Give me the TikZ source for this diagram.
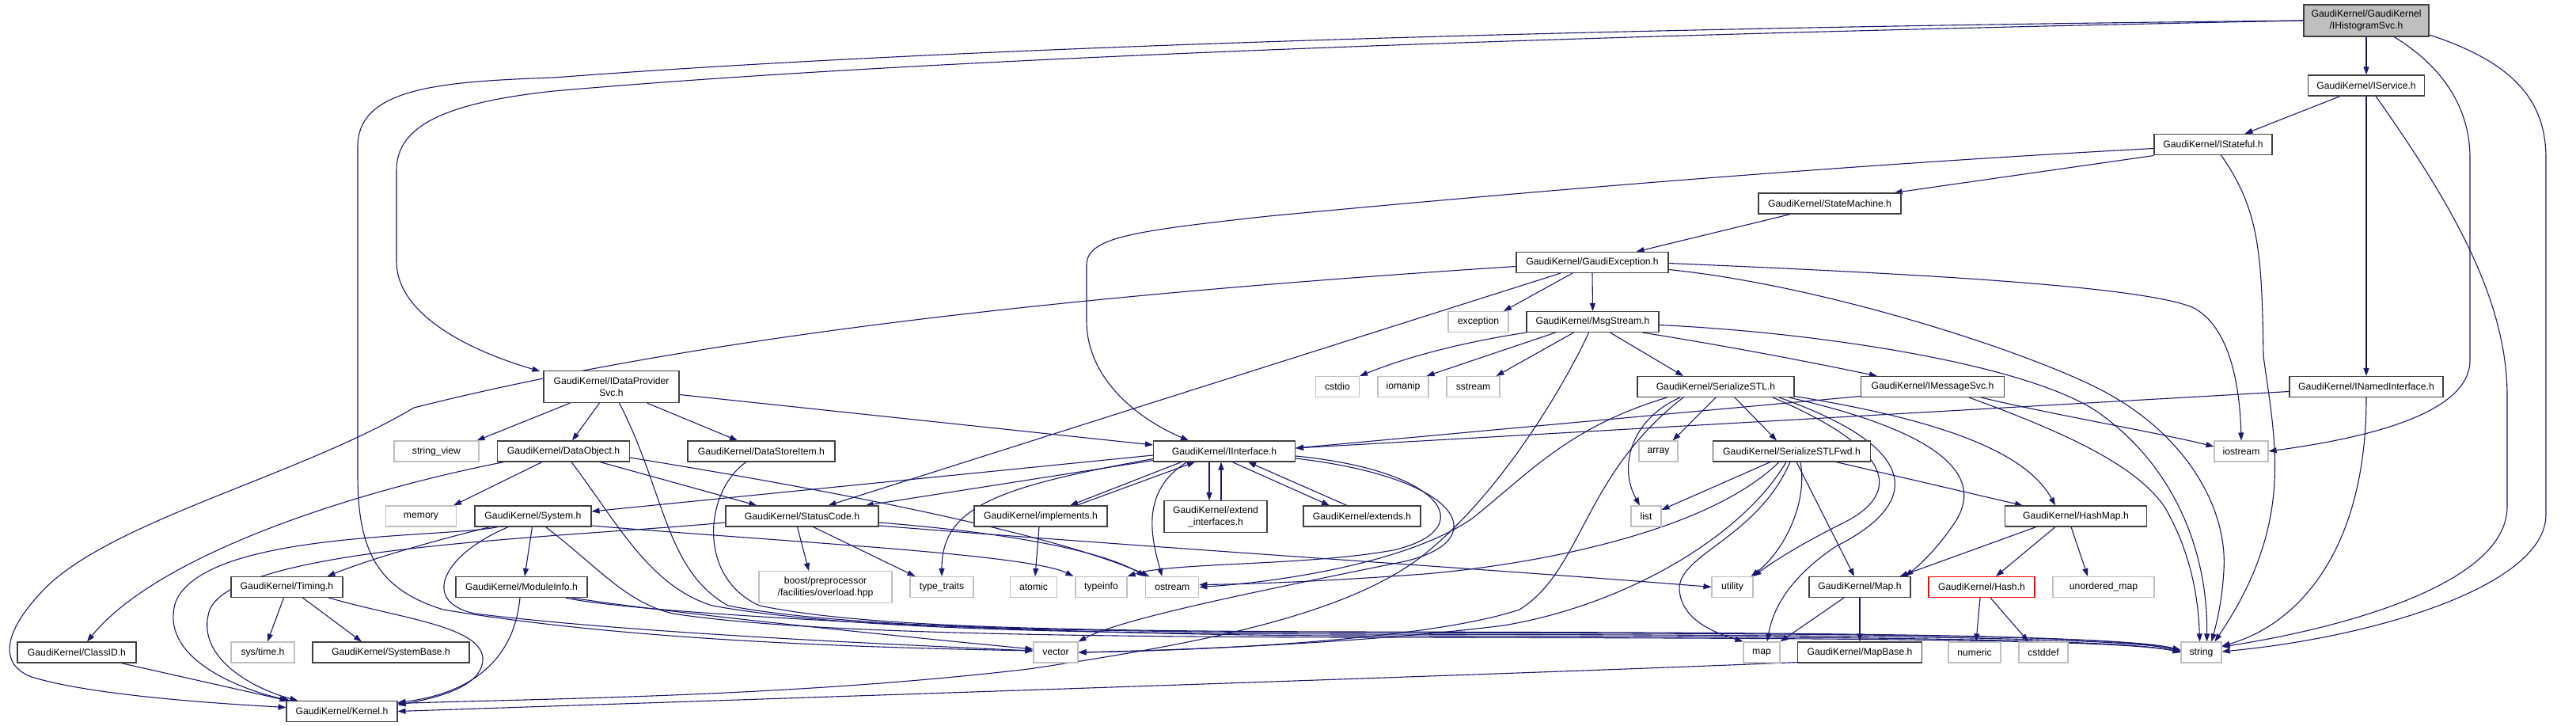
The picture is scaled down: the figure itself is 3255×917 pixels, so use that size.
\documentclass[tikz,border=0pt]{standalone}
\usepackage{fontspec}
\setmainfont{Liberation Sans}
\usetikzlibrary{arrows.meta,calc}
\definecolor{ecol}{HTML}{191970}
\definecolor{bcol}{HTML}{404040}
\definecolor{gcol}{HTML}{BFBFBF}
\pgfdeclarelayer{bg}
\pgfsetlayers{bg,main}
\tikzset{
 nbox/.style={rectangle, inner sep=0pt, align=center, font=\fontsize{12.2}{14.5}\selectfont, fill=white, line width=1.1pt},
 bk/.style={nbox, draw=bcol},
 gy/.style={nbox, draw=gcol},
 rd/.style={nbox, draw=red},
 topn/.style={fill=gcol},
 sz/.style 2 args={minimum width=#1, minimum height=#2},
 ed/.style={draw=ecol, line width=1.1pt, -{Triangle[length=10pt,width=7pt]}},
}
\begin{document}
\begin{tikzpicture}[x=1pt,y=-1pt]
\begin{pgfonlayer}{bg}
\fill[white] (0,0) rectangle (3255,917);
\end{pgfonlayer}
\useasboundingbox (0,0) rectangle (3255,917);
% nodes
\node[bk,topn,sz={158}{40}] (H) at (2990,26) {GaudiKernel/GaudiKernel\\/IHistogramSvc.h};
\node[bk,sz={147}{26}] (isvc) at (2990,108) {GaudiKernel/IService.h};
\node[bk,sz={149}{26}] (istf) at (2796.5,182.5) {GaudiKernel/IStateful.h};
\node[bk,sz={180}{26}] (stm) at (2312,257) {GaudiKernel/StateMachine.h};
\node[bk,sz={192}{26}] (gex) at (2012,331.5) {GaudiKernel/GaudiException.h};
\node[gy,sz={76}{26}] (exc) at (1868,406.5) {exception};
\node[bk,sz={167}{26}] (msg) at (2012.5,406.5) {GaudiKernel/MsgStream.h};
\node[bk,sz={171}{40}] (dps) at (772.5,488.5) {GaudiKernel/IDataProvider\\Svc.h};
\node[gy,sz={55}{26}] (cstdio) at (1690,488.5) {cstdio};
\node[gy,sz={64}{26}] (iomanip) at (1773,488.5) {iomanip};
\node[gy,sz={67}{26}] (sstream) at (1861.5,488.5) {sstream};
\node[bk,sz={198}{26}] (ser) at (2168,488.5) {GaudiKernel/SerializeSTL.h};
\node[bk,sz={181}{26}] (ims) at (2442,488.5) {GaudiKernel/IMessageSvc.h};
\node[bk,sz={194}{26}] (inm) at (2990,488.5) {GaudiKernel/INamedInterface.h};
\node[gy,sz={107}{26}] (sv) at (551.5,570) {string\_view};
\node[bk,sz={167}{26}] (dob) at (712,570) {GaudiKernel/DataObject.h};
\node[bk,sz={186}{26}] (dsi) at (962,570) {GaudiKernel/DataStoreItem.h};
\node[bk,sz={179}{26}] (iif) at (1547,570) {GaudiKernel/IInterface.h};
\node[gy,sz={49}{26}] (array) at (2095.5,570) {array};
\node[bk,sz={199}{26}] (sfw) at (2264,570) {GaudiKernel/SerializeSTLFwd.h};
\node[gy,sz={68}{26}] (ios) at (2832,570) {iostream};
\node[gy,sz={89}{26}] (mem) at (532,652) {memory};
\node[bk,sz={147}{26}] (sys) at (673.5,652) {GaudiKernel/System.h};
\node[bk,sz={193}{26}] (sc) at (1013.5,652) {GaudiKernel/StatusCode.h};
\node[bk,sz={168}{26}] (impl) at (1315,652) {GaudiKernel/implements.h};
\node[bk,sz={130}{40}] (ext) at (1536,652.7) {GaudiKernel/extend\\\_interfaces.h};
\node[bk,sz={148}{26}] (exd) at (1721,652) {GaudiKernel/extends.h};
\node[gy,sz={38}{26}] (list) at (2080,652) {list};
\node[bk,sz={179}{26}] (hmap) at (2623,652) {GaudiKernel/HashMap.h};
\node[bk,sz={141}{26}] (tim) at (362.5,741.5) {GaudiKernel/Timing.h};
\node[bk,sz={166}{26}] (mod) at (659,741.5) {GaudiKernel/ModuleInfo.h};
\node[gy,sz={168}{40}] (bst) at (1043,741.7) {boost/preprocessor\\/facilities/overload.hpp};
\node[gy,sz={80}{26}] (tt) at (1190,741.5) {type\_traits};
\node[gy,sz={59}{26}] (atomic) at (1306,741.5) {atomic};
\node[gy,sz={65}{26}] (ti) at (1391.5,741.5) {typeinfo};
\node[gy,sz={67}{26}] (ost) at (1481.3,741.5) {ostream};
\node[gy,sz={52}{26}] (util) at (2189,741.5) {utility};
\node[bk,sz={128}{26}] (mapH) at (2350,741.5) {GaudiKernel/Map.h};
\node[rd,sz={134}{26}] (hash) at (2504,741.5) {GaudiKernel/Hash.h};
\node[gy,sz={128}{26}] (umap) at (2658,741.5) {unordered\_map};
\node[bk,sz={150}{26}] (cid) at (97,824) {GaudiKernel/ClassID.h};
\node[gy,sz={80}{26}] (stime) at (332,824) {sys/time.h};
\node[bk,sz={198}{26}] (sbase) at (494,824) {GaudiKernel/SystemBase.h};
\node[gy,sz={56}{26}] (vec) at (1334,824) {vector};
\node[gy,sz={46}{26}] (map) at (2226,824) {map};
\node[bk,sz={157}{26}] (mbase) at (2350,824) {GaudiKernel/MapBase.h};
\node[gy,sz={66}{26}] (num) at (2495,824) {numeric};
\node[gy,sz={62}{26}] (csd) at (2582,824) {cstddef};
\node[gy,sz={51}{26}] (str) at (2781.5,824) {string};
\node[bk,sz={140}{26}] (ker) at (432,898.5) {GaudiKernel/Kernel.h};

\begin{pgfonlayer}{bg}
% IHistogramSvc
\draw[ed] (H.south) -- (isvc.north);
\draw[ed] (H.west) .. controls (1800,48) and (1100,80) .. (700,115) .. controls (560,130) and (501,160) .. (501,215) -- (501,330) .. controls (501,400) and (600,445) .. ($(dps.north west)+(-4,1)$);
\draw[ed] (H.west) .. controls (2000,35) and (1200,60) .. (700,98) .. controls (560,103) and (452,110) .. (452,185) -- (452,600) .. controls (452,700) and (480,745) .. (560,770) .. controls (800,810) and (1100,818) .. ($(vec.west)+(0,-2)$);
\draw[ed] ($(H.south)+(35,0)$) .. controls (3080,80) and (3121,130) .. (3121,200) -- (3121,455) .. controls (3121,520) and (3000,552) .. (ios.east);
\draw[ed] ($(H.east)+(0,18)$) .. controls (3180,80) and (3217,130) .. (3217,200) -- (3217,650) .. controls (3217,740) and (3000,805) .. ($(str.east)+(0,-1)$);
% IService
\draw[ed] ($(isvc.south)+(-33,0)$) -- ($(istf.north)+(40,0)$);
\draw[ed] (isvc.south) -- (inm.north);
\draw[ed] ($(isvc.south)+(12,0)$) .. controls (3100,260) and (3168,380) .. (3168,500) -- (3168,640) .. controls (3168,740) and (2950,795) .. ($(str.east)+(0,-7)$);
% INamedInterface
\draw[ed] (inm.south) .. controls (2990,700) and (2900,790) .. ($(str.east)+(0,-8)$);
\draw[ed] ($(inm.west)+(0,6)$) -- ($(iif.east)+(0,-4)$);
% IStateful
\draw[ed] ($(istf.west)+(0,14)$) -- ($(stm.north east)+(-9,0)$);
\draw[ed] ($(istf.west)+(0,5)$) .. controls (2300,210) and (1900,245) .. (1603,273) .. controls (1430,292) and (1373,300) .. (1373,335) -- (1373,405) .. controls (1373,480) and (1440,530) .. ($(iif.north)+(-45,0)$);
\draw[ed] ($(istf.south)+(10,0)$) .. controls (2855,265) and (2858,320) .. (2860,450) .. controls (2875,560) and (2900,660) .. ($(str.north)+(17,0)$);
% StateMachine
\draw[ed] ($(stm.south west)+(41,0)$) -- ($(gex.north east)+(-41,0)$);
% GaudiException
\draw[ed] (gex.south) -- (msg.north);
\draw[ed] ($(gex.south)+(-25,0)$) -- ($(exc.north)+(32,0)$);
\draw[ed] ($(gex.south)+(-40,0)$) -- ($(sc.north)+(33,0)$);
\draw[ed] ($(gex.west)+(0,5)$) .. controls (1400,370) and (900,420) .. (523,515) .. controls (380,600) and (150,655) .. (60,740) .. controls (0,800) and (0,840) .. (40,855) .. controls (120,880) and (300,890) .. ($(ker.west)+(0,-5)$);
\draw[ed] ($(gex.east)+(0,1)$) .. controls (2400,345) and (2700,360) .. (2770,388) .. controls (2815,410) and (2830,480) .. (ios.north);
\draw[ed] ($(gex.east)+(0,9)$) .. controls (2300,360) and (2550,440) .. (2650,490) .. controls (2760,545) and (2815,640) .. (2810,720) .. controls (2808,760) and (2800,790) .. ($(str.north)+(13,0)$);
% MsgStream
\draw[ed] (msg.south west) .. controls (1850,432) and (1780,450) .. (cstdio.north east);
\draw[ed] ($(msg.south)+(-47,0)$) -- ($(iomanip.north east)+(-3,0)$);
\draw[ed] ($(msg.south)+(-24,0)$) -- ($(sstream.north east)+(-5,0)$);
\draw[ed] ($(msg.south)+(22,0)$) -- ($(ser.north)+(-41,0)$);
\draw[ed] ($(msg.south east)+(-21,0)$) .. controls (2200,440) and (2300,460) .. ($(ims.north west)+(21,0)$);
\draw[ed] ($(msg.east)+(0,4)$) .. controls (2300,420) and (2560,460) .. (2650,520) .. controls (2750,590) and (2790,700) .. ($(str.north)+(7,0)$);
\draw[ed] ($(msg.south)+(-5,0)$) .. controls (1980,480) and (1900,620) .. (1800,700) .. controls (1700,780) and (1500,815) .. (1300,845) .. controls (1000,880) and (700,882) .. ($(ker.east)+(0,-10)$);
% IDataProviderSvc
\draw[ed] ($(dps.south)+(-52,0)$) -- ($(sv.north east)+(-3,0)$);
\draw[ed] ($(dps.south)+(-15,0)$) -- ($(dob.north)+(11,0)$);
\draw[ed] ($(dps.south)+(45,0)$) -- ($(dsi.north)+(-30,0)$);
\draw[ed] ($(dps.east)+(0,10)$) -- ($(iif.west)+(0,-8)$);
\draw[ed] ($(dps.south)+(10,0)$) .. controls (840,620) and (840,720) .. (920,765) .. controls (1050,790) and (1300,798) .. (1700,799) .. controls (2300,800) and (2680,802) .. ($(str.west)+(0,-3)$);
% DataObject
\draw[ed] ($(dob.south west)+(9,0)$) .. controls (450,620) and (200,700) .. ($(cid.north)+(13,0)$);
\draw[ed] ($(dob.south)+(-27,0)$) -- ($(mem.north east)+(-4,0)$);
\draw[ed] ($(dob.south)+(46,0)$) -- ($(sc.north west)+(40,0)$);
\draw[ed] ($(dob.east)+(0,8)$) .. controls (900,595) and (1300,660) .. ($(ost.north west)+(5,0)$);
\draw[ed] ($(dob.south)+(10,0)$) .. controls (780,660) and (820,740) .. (900,765) .. controls (1050,792) and (1300,800) .. (1700,801) .. controls (2300,802) and (2680,804) .. ($(str.west)+(0,-2)$);
% DataStoreItem
\draw[ed] ($(dsi.south)+(-19,0)$) .. controls (890,620) and (880,730) .. (960,765) .. controls (1080,790) and (1300,797) .. (1700,798) .. controls (2300,799) and (2680,801) .. ($(str.west)+(0,-1)$);
% System
\draw[ed] ($(sys.south west)+(20,0)$) .. controls (560,680) and (470,705) .. ($(tim.north east)+(-20,0)$);
\draw[ed] ($(sys.south west)+(30,0)$) .. controls (560,680) and (260,670) .. (222,760) .. controls (200,830) and (300,870) .. ($(ker.north west)+(5,0)$);
\draw[ed] ($(sys.south)+(-1,0)$) -- ($(mod.north)+(4,0)$);
\draw[ed] ($(sys.east)+(0,12)$) .. controls (1000,685) and (1300,700) .. ($(ti.north west)+(-2,0)$);
\draw[ed] ($(sys.south)+(16,0)$) .. controls (760,720) and (790,760) .. (850,775) .. controls (1000,798) and (1300,804) .. (1700,805) .. controls (2300,806) and (2680,807) .. (str.west);
\draw[ed] ($(sys.south west)+(43,0)$) .. controls (560,700) and (530,760) .. (600,775) .. controls (800,800) and (1150,815) .. ($(vec.west)+(0,-2)$);
% StatusCode
\draw[ed] ($(sc.west)+(0,8)$) .. controls (700,680) and (300,690) .. (265,770) .. controls (245,830) and (320,870) .. ($(ker.north west)+(15,0)$);
\draw[ed] ($(sc.south)+(-6,0)$) -- ($(bst.north)+(-21,0)$);
\draw[ed] ($(sc.south)+(14,0)$) -- ($(tt.north west)+(7,0)$);
\draw[ed] ($(sc.east)+(0,8)$) .. controls (1300,675) and (1400,700) .. (ost.north west);
\draw[ed] ($(sc.east)+(0,12)$) .. controls (1500,695) and (1900,720) .. (util.west);
% ModuleInfo
\draw[ed] ($(mod.south)+(-2,0)$) .. controls (650,830) and (600,875) .. ($(ker.east)+(0,-11)$);
\draw[ed] ($(mod.south east)+(-28,0)$) .. controls (800,775) and (1300,802) .. (1700,803) .. controls (2300,804) and (2680,806) .. (str.west);
\draw[ed] ($(mod.south east)+(-20,0)$) .. controls (850,775) and (1150,805) .. ($(vec.west)+(0,-4)$);
% Timing
\draw[ed] ($(tim.south)+(-4,0)$) -- ($(stime.north)+(6,0)$);
\draw[ed] ($(tim.south)+(20,0)$) -- ($(sbase.north)+(-37,0)$);
\draw[ed] ($(tim.south east)+(-18,0)$) .. controls (500,780) and (605,790) .. (610,830) .. controls (612,865) and (560,880) .. ($(ker.east)+(0,-8)$);
% ClassID
\draw[ed] ($(cid.south)+(56,0)$) -- ($(ker.north west)+(2,0)$);
% implements
\draw[ed] ($(impl.south)+(-2,0)$) -- ($(atomic.north)+(2,0)$);
% IInterface
\draw[ed] ($(iif.south west)+(0,-2)$) -- ($(sc.north east)+(-17,0)$);
\draw[ed] ($(iif.west)+(0,5)$) -- ($(sys.east)+(0,-6)$);
\draw[ed] ($(iif.south west)+(0,-4)$) .. controls (1260,615) and (1190,640) .. (tt.north);
\draw[ed] ($(iif.south)+(-54,0)$) -- ($(impl.north)+(37,0)$);
\draw[ed] ($(impl.north)+(45,0)$) -- ($(iif.south)+(-37,0)$);
\draw[ed] ($(iif.south)+(-19,0)$) -- ($(ext.north)+(-8,0)$);
\draw[ed] ($(ext.north)+(7,0)$) -- ($(iif.south)+(-4,0)$);
\draw[ed] ($(iif.south)+(10,0)$) -- ($(exd.north)+(-41,0)$);
\draw[ed] ($(exd.north)+(-19,0)$) -- ($(iif.south)+(30,0)$);
\draw[ed] ($(iif.south)+(-47,0)$) .. controls (1440,620) and (1455,680) .. ($(ost.north)+(-13,0)$);
\draw[ed] ($(iif.east)+(0,6)$) .. controls (1830,595) and (1870,670) .. (1760,695) .. controls (1650,715) and (1480,710) .. (ti.north east);
\draw[ed] ($(iif.east)+(0,9)$) .. controls (1860,605) and (1890,690) .. (1760,712) .. controls (1600,745) and (1420,780) .. (vec.north east);
% IMessageSvc
\draw[ed] ($(ims.west)+(0,12)$) -- ($(iif.east)+(0,-4)$);
\draw[ed] ($(ims.south east)+(-30,0)$) .. controls (2600,525) and (2720,545) .. ($(ios.west)+(0,-6)$);
\draw[ed] ($(ims.south east)+(-45,0)$) .. controls (2620,550) and (2700,590) .. (2735,640) .. controls (2770,700) and (2778,760) .. ($(str.north)+(-2,0)$);
% SerializeSTL
\draw[ed] (ser.south) -- ($(array.north east)+(-7,0)$);
\draw[ed] ($(ser.south)+(24,0)$) -- ($(sfw.north)+(-19,0)$);
\draw[ed] ($(ser.south)+(-45,0)$) .. controls (2060,530) and (2045,590) .. ($(list.north)+(-8,0)$);
\draw[ed] ($(ser.south west)+(38,0)$) .. controls (1980,540) and (1930,600) .. (1860,655) .. controls (1780,710) and (1620,735) .. (ost.east);
\draw[ed] ($(ser.south)+(-41,0)$) .. controls (2000,600) and (2000,720) .. (1920,770) .. controls (1800,810) and (1500,822) .. (vec.east);
\draw[ed] ($(ser.south)+(72,0)$) .. controls (2400,570) and (2400,625) .. (2330,660) .. controls (2270,690) and (2240,710) .. (util.north east);
\draw[ed] ($(ser.south)+(80,0)$) .. controls (2440,570) and (2420,640) .. (2320,690) .. controls (2260,730) and (2240,770) .. ($(map.north)+(7,0)$);
\draw[ed] ($(ser.south east)+(-7,0)$) .. controls (2450,545) and (2510,600) .. (2470,660) .. controls (2450,690) and (2430,710) .. ($(mapH.north east)+(-7,0)$);
\draw[ed] ($(ser.east)+(0,12)$) .. controls (2450,530) and (2560,570) .. ($(hmap.north)+(-26,0)$);
% SerializeSTLFwd
\draw[ed] ($(sfw.south)+(56,0)$) -- ($(hmap.north west)+(23,0)$);
\draw[ed] ($(sfw.south)+(6,0)$) -- ($(mapH.north)+(-7,0)$);
\draw[ed] ($(sfw.south)+(11,0)$) .. controls (2285,640) and (2250,700) .. ($(util.north east)+(-3,0)$);
\draw[ed] ($(sfw.south)+(-27,0)$) -- ($(list.east)+(0,-8)$);
\draw[ed] ($(sfw.south)+(-16,0)$) .. controls (2160,670) and (1950,712) .. (1800,725) .. controls (1650,736) and (1560,738) .. ($(ost.east)+(0,-3)$);
\draw[ed] ($(sfw.south)+(-7,0)$) .. controls (2200,680) and (2050,765) .. (1900,790) .. controls (1700,815) and (1450,822) .. (vec.east);
\draw[ed] ($(sfw.south)+(-2,0)$) .. controls (2220,680) and (2120,700) .. (2122,745) .. controls (2125,785) and (2170,800) .. (map.north west);
% HashMap
\draw[ed] ($(hmap.south)+(-50,0)$) -- ($(mapH.north east)+(-14,0)$);
\draw[ed] ($(hmap.south)+(-26,0)$) -- ($(hash.north)+(18,0)$);
\draw[ed] ($(hmap.south)+(-6,0)$) -- ($(umap.north)+(-20,0)$);
% Map, Hash, MapBase
\draw[ed] ($(mapH.south)+(-20,0)$) -- (map.north east);
\draw[ed] (mapH.south) -- (mbase.north);
\draw[ed] ($(hash.south)+(-2,0)$) -- ($(num.north)+(2,0)$);
\draw[ed] ($(hash.south)+(11,0)$) -- ($(csd.north)+(-19,0)$);
\draw[ed] ($(mbase.south west)+(0,-1)$) .. controls (1900,852) and (900,885) .. (ker.east);
\end{pgfonlayer}
\end{tikzpicture}
\end{document}
